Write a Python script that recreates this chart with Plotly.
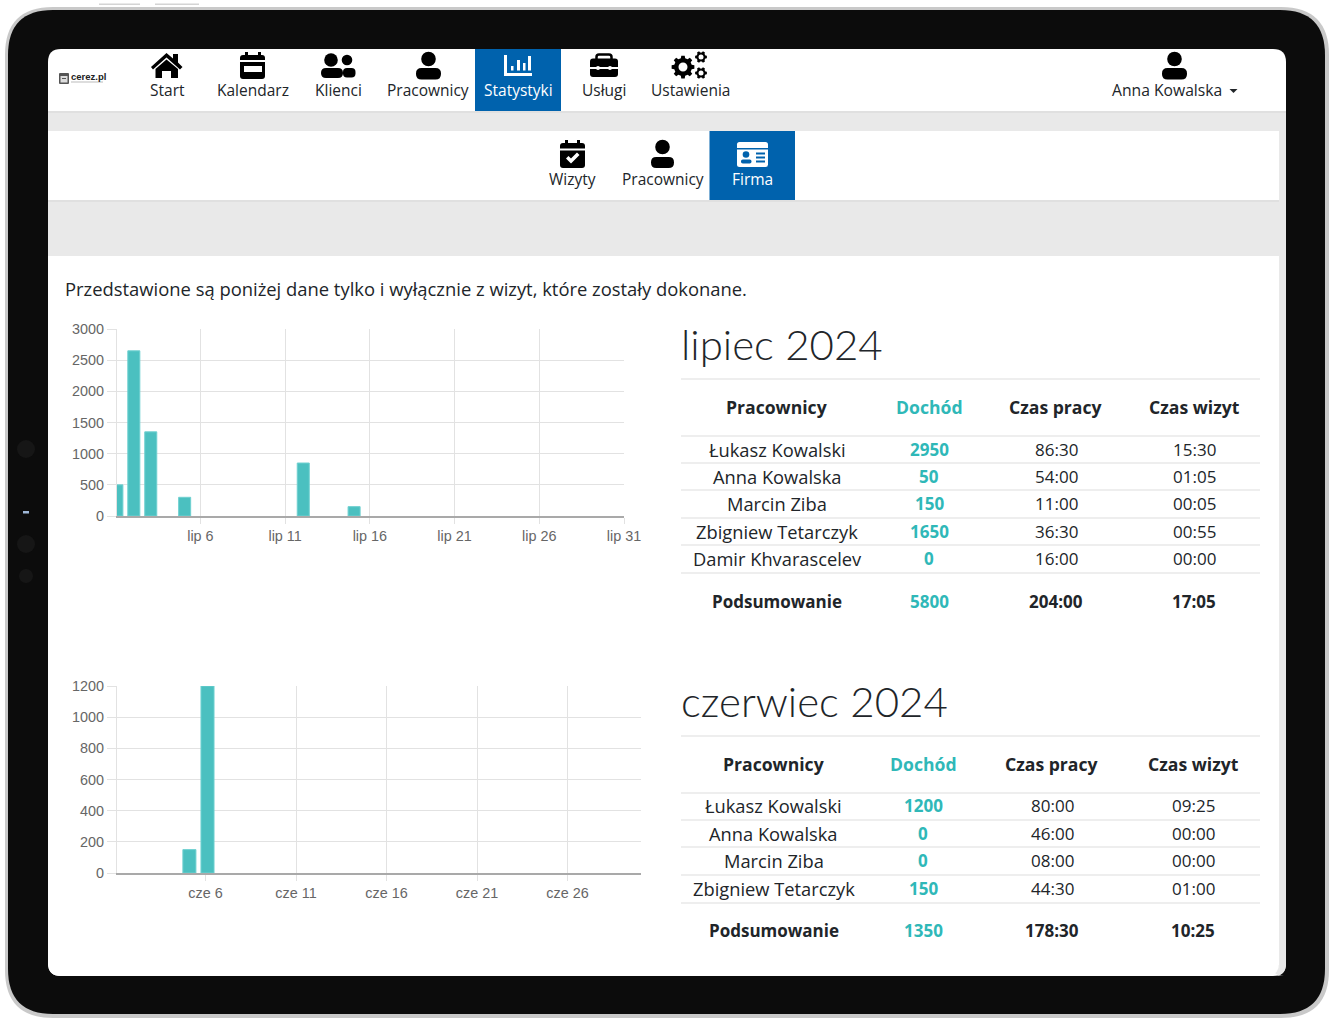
import math
import plotly.graph_objects as go

W, H = 1334, 1026
FONT = "Open Sans"
AXFONT = "Liberation Sans"
TEAL = "#2fb8b8"
BAR = "#4bc0c0"
BLUE = "#0062ad"
INK = "#212529"

# ---------- data ----------
july_days = [1, 2, 3, 5, 12, 15]
july_values = [500, 2650, 1350, 300, 850, 150]
july_tick_days = [6, 11, 16, 21, 26, 31]
july_tick_labels = ["lip 6", "lip 11", "lip 16", "lip 21", "lip 26", "lip 31"]
july_y_ticks = [0, 500, 1000, 1500, 2000, 2500, 3000]

june_days = [5, 6]
june_values = [150, 1200]
june_tick_days = [6, 11, 16, 21, 26]
june_tick_labels = ["cze 6", "cze 11", "cze 16", "cze 21", "cze 26"]
june_y_ticks = [0, 200, 400, 600, 800, 1000, 1200]

headers = ["Pracownicy", "Dochód", "Czas pracy", "Czas wizyt"]
summary_label = "Podsumowanie"

july_names = ["Łukasz Kowalski", "Anna Kowalska", "Marcin Ziba", "Zbigniew Tetarczyk", "Damir Khvarascelev"]
july_income = ["2950", "50", "150", "1650", "0"]
july_work = ["86:30", "54:00", "11:00", "36:30", "16:00"]
july_visits = ["15:30", "01:05", "00:05", "00:55", "00:00"]
july_sum = ["5800", "204:00", "17:05"]

june_names = ["Łukasz Kowalski", "Anna Kowalska", "Marcin Ziba", "Zbigniew Tetarczyk"]
june_income = ["1200", "0", "0", "150"]
june_work = ["80:00", "46:00", "08:00", "44:30"]
june_visits = ["09:25", "00:00", "00:00", "01:00"]
june_sum = ["1350", "178:30", "10:25"]

nav_labels = ["Start", "Kalendarz", "Klienci", "Pracownicy", "Statystyki", "Usługi", "Ustawienia"]
subnav_labels = ["Wizyty", "Pracownicy", "Firma"]
intro = "Przedstawione są poniżej dane tylko i wyłącznie z wizyt, które zostały dokonane."


# ---------- pixel helpers for the page chrome ----------
def X(x): return x / W
def Y(y): return 1 - y / H

shapes = []
annos = []


def path(d, fill, line=None, lw=0):
    shapes.append(dict(type="path", xref="paper", yref="paper", path=d, fillcolor=fill, layer="below",
                       line=dict(color=line or "rgba(0,0,0,0)", width=lw)))


def poly(pts, fill):
    d = "M" + " L".join(f"{X(a):.5f},{Y(b):.5f}" for a, b in pts) + " Z"
    path(d, fill)


def rect(x0, y0, x1, y1, fill):
    shapes.append(dict(type="rect", xref="paper", yref="paper", x0=X(x0), x1=X(x1), y0=Y(y0), y1=Y(y1),
                       fillcolor=fill, line=dict(width=0), layer="below"))


def circle(cx, cy, r, fill):
    shapes.append(dict(type="circle", xref="paper", yref="paper", x0=X(cx - r), x1=X(cx + r),
                       y0=Y(cy + r), y1=Y(cy - r), fillcolor=fill, line=dict(width=0), layer="below"))


def rrect(x0, y0, x1, y1, r, fill, line=None, lw=0):
    p = lambda a, b: f"{X(a):.5f},{Y(b):.5f}"
    d = (f"M{p(x0 + r, y0)} L{p(x1 - r, y0)} Q{p(x1, y0)} {p(x1, y0 + r)} L{p(x1, y1 - r)} "
         f"Q{p(x1, y1)} {p(x1 - r, y1)} L{p(x0 + r, y1)} Q{p(x0, y1)} {p(x0, y1 - r)} "
         f"L{p(x0, y0 + r)} Q{p(x0, y0)} {p(x0 + r, y0)} Z")
    path(d, fill, line, lw)


def person(cx, head_y, head_r, x0, x1, y0, y1, fill="#000000"):
    circle(cx, head_y, head_r, fill)
    rrect(x0, y0, x1, y1, (y1 - y0) * 0.48, fill)


def gear(cx, cy, r, hole, teeth=8):
    pts = []
    for i in range(teeth):
        a = 2 * math.pi * i / teeth
        s = math.pi / teeth
        for da, rr in [(-0.62 * s, r * 0.78), (-0.38 * s, r), (0.38 * s, r), (0.62 * s, r * 0.78)]:
            pts.append((cx + rr * math.cos(a + da), cy + rr * math.sin(a + da)))
    poly(pts, "#000000")
    circle(cx, cy, hole, "#ffffff")


def text(x, y, s, size=16, color=INK, anchor="center", weight=400, family=FONT):
    annos.append(dict(xref="paper", yref="paper", x=X(x), y=Y(y), text=s, showarrow=False, xanchor=anchor,
                      yanchor="middle", font=dict(family=family, size=size, color=color, weight=weight),
                      borderpad=0, borderwidth=0))


# ---------- device ----------
rect(99, 3.5, 140, 5, "#d4d4d4")
rect(155, 3.5, 199, 5, "#d4d4d4")
rrect(5, 7, 1329, 1018, 48, "#c9c9c9")
rrect(8, 10, 1325, 1014, 45, "#0c0c0c")
circle(26, 449, 9, "#161616")
circle(26, 544, 9, "#161616")
circle(26, 576, 7, "#161616")
rect(23, 511, 29, 513.5, "#9fb8d8")

# ---------- page ----------
rrect(48, 49, 1286, 976, 13, "#ffffff")
rect(48, 111, 1286, 256, "#e9e9e9")
rect(1279, 256, 1286, 965, "#e9e9e9")
rrect(1272, 950, 1286, 976, 12, "#e9e9e9")
rect(48, 131, 1279, 200, "#ffffff")
rect(48, 200, 1279, 202, "#e0e0e0")
rect(48, 111, 1286, 113, "#e0e0e0")
rect(48, 256, 1279, 965, "#ffffff")
rrect(48, 940, 1279, 976, 13, "#ffffff")
rect(475, 49, 561, 111, BLUE)
rect(709.5, 131, 795, 200, BLUE)

# logo
rrect(59, 73, 69, 84, 1, "#555555")
rect(60.5, 76, 67.5, 82.5, "#dddddd")
rect(62, 78, 66, 79, "#555555")
text(71, 76, "cerez.pl", 9.5, "#222222", "left", 700, "Liberation Sans")
rect(71, 81.5, 103, 82.5, "#bbbbbb")

# house
poly([(151, 67), (166.5, 53), (173, 58.5), (173, 54), (178, 54), (178, 62.5), (182.5, 67), (180, 69.5),
      (166.5, 57.5), (153, 69.5)], "#000000")
poly([(155.5, 69), (166.5, 59.5), (178, 69), (178, 78), (171, 78), (171, 71), (162, 71), (162, 78), (155.5, 78)],
     "#000000")

# calendar
rect(245, 52, 248, 58, "#000000")
rect(258, 52, 261, 58, "#000000")
rrect(240, 55, 265, 79, 3, "#000000")
rect(240, 60, 265, 62, "#ffffff")
rect(244, 66, 262, 72, "#ffffff")

# clients
circle(347, 60, 5.3, "#000000")
rrect(343, 68, 355.5, 77.5, 4, "#000000")
circle(331, 60, 6.8, "#000000")
rrect(321, 68, 343, 78, 5, "#000000")

# employees
person(428.5, 59, 7.3, 416, 441, 68, 79.5)

# statistics
rect(504, 55, 507, 76, "#ffffff")
rect(504, 73, 532, 76, "#ffffff")
rect(511, 66, 513.5, 70.5, "#ffffff")
rect(517, 60, 520, 70.5, "#ffffff")
rect(523, 63, 525.5, 70.5, "#ffffff")
rect(528, 56, 531, 70.5, "#ffffff")

# briefcase
rrect(596.5, 54.5, 611.5, 63, 2.5, "#ffffff", "#000000", 2.5)
rrect(590, 58.5, 618, 77, 3, "#000000")
rect(590, 67, 618, 69, "#ffffff")
circle(598, 68, 2, "#ffffff")
circle(610, 68, 2, "#ffffff")

# gears
gear(683, 67, 11.5, 4.5)
gear(701, 57, 6, 2.5, 6)
gear(701, 73, 6, 2.5, 6)

# visits
rect(565, 140, 568, 146, "#000000")
rect(577, 140, 580, 146, "#000000")
rrect(560, 143, 585, 168, 3, "#000000")
rect(560, 148.5, 585, 150.5, "#ffffff")
poly([(566, 158.5), (568.5, 156), (571, 158.5), (577, 152.5), (579.5, 155), (571, 163.5)], "#ffffff")

# employees (second row)
person(662.5, 147, 7.3, 651, 674, 157, 168)

# company card
rrect(737, 142, 768, 167, 2.5, "#ffffff")
rect(737, 148, 768, 149.5, BLUE)
circle(746, 154.5, 3.3, BLUE)
rrect(741, 159.5, 751.5, 163.5, 1.8, BLUE)
rect(756, 152.5, 765, 154.5, BLUE)
rect(756, 156.5, 765, 158.5, BLUE)
rect(756, 160.5, 765, 162.5, BLUE)

# user menu
person(1174.5, 59, 7.3, 1162, 1187, 68, 79.5)
poly([(1229.5, 89), (1237.5, 89), (1233.5, 93)], "#212529")

# navigation text
for label, cx in zip(nav_labels, [167, 253, 338.5, 428, 518, 604, 690]):
    text(cx, 90.5, label, 15.5, "#ffffff" if label == "Statystyki" else INK)
for label, cx in zip(subnav_labels, [572.5, 662.5, 752]):
    text(cx, 179, label, 15.5, "#ffffff" if label == "Firma" else INK)
text(1167, 90.5, "Anna Kowalska", 15.7)

text(65, 288, intro, 18.4, INK, "left")


def table(title, title_y, cols, head_y, rule_ys, row_ys, sum_y, names, inc, work, vis, total):
    text(681, title_y - 1, title, 42, INK, "left", 300, "Lato")
    for y in rule_ys:
        rect(681, y - 0.75, 1260, y + 0.75, "#e8e8e8")
    for c, h in zip(cols, headers):
        text(c, head_y, h, 17.6, TEAL if h == "Dochód" else INK, weight=700)
    for y, n, a, b, v in zip(row_ys, names, inc, work, vis):
        y = y - 0.5
        text(cols[0], y, n, 18.3)
        text(cols[1], y, a, 17, TEAL, weight=700)
        text(cols[2], y, b, 17)
        text(cols[3], y, v, 17)
    sum_y = sum_y - 0.5
    text(cols[0], sum_y, summary_label, 17, INK, weight=700)
    text(cols[1], sum_y, total[0], 17, TEAL, weight=700)
    text(cols[2], sum_y, total[1], 17, INK, weight=700)
    text(cols[3], sum_y, total[2], 17, INK, weight=700)


table("lipiec 2024", 345, [777, 929, 1056, 1194], 407, [379, 436, 463, 490, 518, 545, 573],
      [449.5, 477, 504, 531.5, 559], 601.5, july_names, july_income, july_work, july_visits, july_sum)
table("czerwiec 2024", 702, [773.5, 923, 1052, 1193], 764, [736, 793, 820, 847, 875, 903],
      [806, 833.5, 861, 888.5], 930.5, june_names, june_income, june_work, june_visits, june_sum)

# ---------- charts ----------
fig = go.Figure()
fig.add_bar(x=july_days, y=july_values, width=0.71, offset=-0.285, xaxis="x", yaxis="y",
            marker=dict(color=BAR, line=dict(color="#6fd0d0", width=1)), hoverinfo="skip")
fig.add_bar(x=june_days, y=june_values, width=0.72, offset=-0.25, xaxis="x2", yaxis="y2",
            marker=dict(color=BAR, line=dict(color="#6fd0d0", width=1)), hoverinfo="skip")

GRID = "#e2e2e2"


def xaxis(domain, rng, vals, labels, anchor):
    return dict(domain=domain, range=rng, tickmode="array", tickvals=vals, ticktext=labels, anchor=anchor,
                automargin=False,
                showgrid=True, gridcolor=GRID, gridwidth=1, ticks="outside", ticklen=6, tickcolor=GRID, tickwidth=1,
                zeroline=False, showline=True, linecolor="#a9a9a9", linewidth=1.5,
                tickfont=dict(family=AXFONT, size=14.4, color="#666666"), fixedrange=True)


def yaxis(domain, rng, vals, anchor):
    return dict(domain=domain, range=rng, tickmode="array", tickvals=vals, anchor=anchor,
                automargin=False,
                showgrid=True, gridcolor=GRID, gridwidth=1.3, ticks="outside", ticklen=9, tickcolor=GRID, tickwidth=1,
                zeroline=False, showline=True, linecolor=GRID, linewidth=1,
                tickfont=dict(family=AXFONT, size=14.4, color="#666666"), fixedrange=True)


fig.update_layout(
    template="none",
    width=W, height=H, margin=dict(l=0, r=0, t=0, b=0, pad=0, autoexpand=False),
    paper_bgcolor="#ffffff", plot_bgcolor="rgba(0,0,0,0)", showlegend=False, barmode="overlay",
    shapes=shapes, annotations=annos, hovermode=False,
    xaxis=xaxis([117 / W, 624 / W], [1.077, 31], july_tick_days, july_tick_labels, "y"),
    yaxis=yaxis([1 - 516 / H, 1 - 329 / H], [0, 3000], july_y_ticks, "x"),
    xaxis2=xaxis([117 / W, 641 / W], [1.11, 30.06], june_tick_days, june_tick_labels, "y2"),
    yaxis2=yaxis([1 - 873 / H, 1 - 686 / H], [0, 1200], june_y_ticks, "x2"),
)

fig.write_html("out.html", config=dict(displayModeBar=False))
with open("out.html", encoding="utf-8") as f:
    page = f.read()
page = page.replace("<head>", "<head><style>html,body{margin:0;padding:0;overflow:hidden;background:#fff}</style>", 1)
with open("out.html", "w", encoding="utf-8") as f:
    f.write(page)
